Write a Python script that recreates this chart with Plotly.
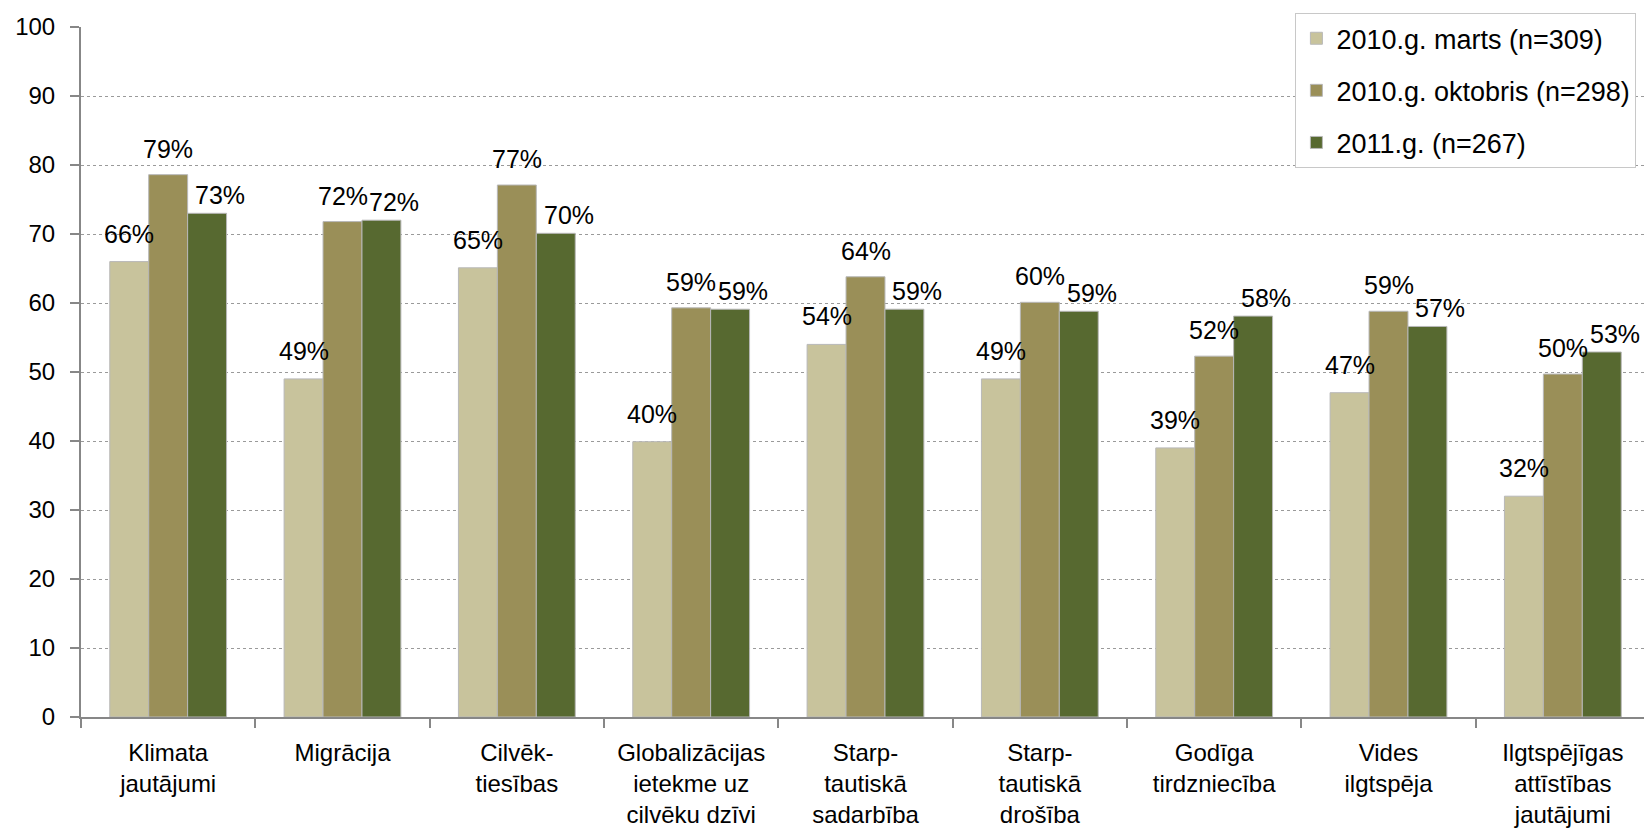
import plotly.graph_objects as go

categories = [
    "Klimata<br>jautājumi",
    "Migrācija",
    "Cilvēk-<br>tiesības",
    "Globalizācijas<br>ietekme uz<br>cilvēku dzīvi",
    "Starp-<br>tautiskā<br>sadarbība",
    "Starp-<br>tautiskā<br>drošība",
    "Godīga<br>tirdzniecība",
    "Vides<br>ilgtspēja",
    "Ilgtspējīgas<br>attīstības<br>jautājumi",
]

series_names = [
    "2010.g. marts (n=309)",
    "2010.g. oktobris (n=298)",
    "2011.g. (n=267)",
]

marts_2010 = [66.0, 49.0, 65.1, 39.9, 54.0, 49.0, 39.0, 47.0, 32.0]
oktobris_2010 = [78.6, 71.8, 77.1, 59.3, 63.8, 60.1, 52.3, 58.8, 49.7]
gads_2011 = [73.0, 72.0, 70.1, 59.1, 59.1, 58.8, 58.1, 56.6, 52.9]

colors = ["#C8C39C", "#9A8F58", "#576930"]
# label nudges (pixels) per series, as placed in the original chart
label_xshift = [0, 0, 13]
label_yshift = [12, 10, 2]

y_ticks = [0, 10, 20, 30, 40, 50, 60, 70, 80, 90, 100]

FONT = "Liberation Sans, Arial, sans-serif"
BARGAP = 0.33

all_series = [marts_2010, oktobris_2010, gads_2011]
n_series = len(all_series)
bar_w = (1 - BARGAP) / n_series

fig = go.Figure()
for name, vals, col in zip(series_names, all_series, colors):
    fig.add_trace(go.Bar(
        name=name,
        x=categories,
        y=vals,
        marker=dict(color=col, line=dict(color="#B8B8B8", width=1)),
        legendgroup=name,
    ))

# value labels placed above each bar through the axes
for s, vals in enumerate(all_series):
    offset = (s - (n_series - 1) / 2) * bar_w
    for i, v in enumerate(vals):
        fig.add_annotation(
            x=i + offset, y=v, xref="x", yref="y",
            text=f"{v:.0f}%",
            showarrow=False,
            xanchor="center", yanchor="bottom",
            xshift=label_xshift[s], yshift=label_yshift[s],
            font=dict(family=FONT, size=25, color="#000000"),
        )

fig.update_layout(
    width=1652,
    height=830,
    margin=dict(l=73, r=10, t=19, b=121, autoexpand=False),
    paper_bgcolor="white",
    plot_bgcolor="white",
    barmode="group",
    bargap=BARGAP,
    bargroupgap=0,
    font=dict(family=FONT, color="#000000"),
    legend=dict(
        x=0.774, y=1.02, xanchor="left", yanchor="top",
        bgcolor="white",
        bordercolor="#C8C8C8", borderwidth=1,
        font=dict(family=FONT, size=27, color="#000000"),
        tracegroupgap=14,
        itemwidth=30,
        entrywidth=362,
    ),
    xaxis=dict(
        showline=True, linecolor="#878787", linewidth=2,
        ticks="outside", tickson="boundaries", ticklen=9, tickcolor="#878787", tickwidth=2,
        tickfont=dict(family=FONT, size=24, color="#000000"),
        tickangle=0,
        ticklabelstandoff=13,
        showgrid=False,
        automargin=False,
    ),
    yaxis=dict(
        range=[0, 100],
        tickvals=y_ticks,
        showline=True, linecolor="#878787", linewidth=2,
        ticks="outside", ticklen=9, tickcolor="#878787", tickwidth=2,
        tickfont=dict(family=FONT, size=24, color="#000000"),
        ticklabelstandoff=10,
        showgrid=True, gridcolor="#9A9A9A", gridwidth=1, griddash="dot",
        zeroline=False,
        automargin=False,
    ),
)

fig.write_html("out.html")
